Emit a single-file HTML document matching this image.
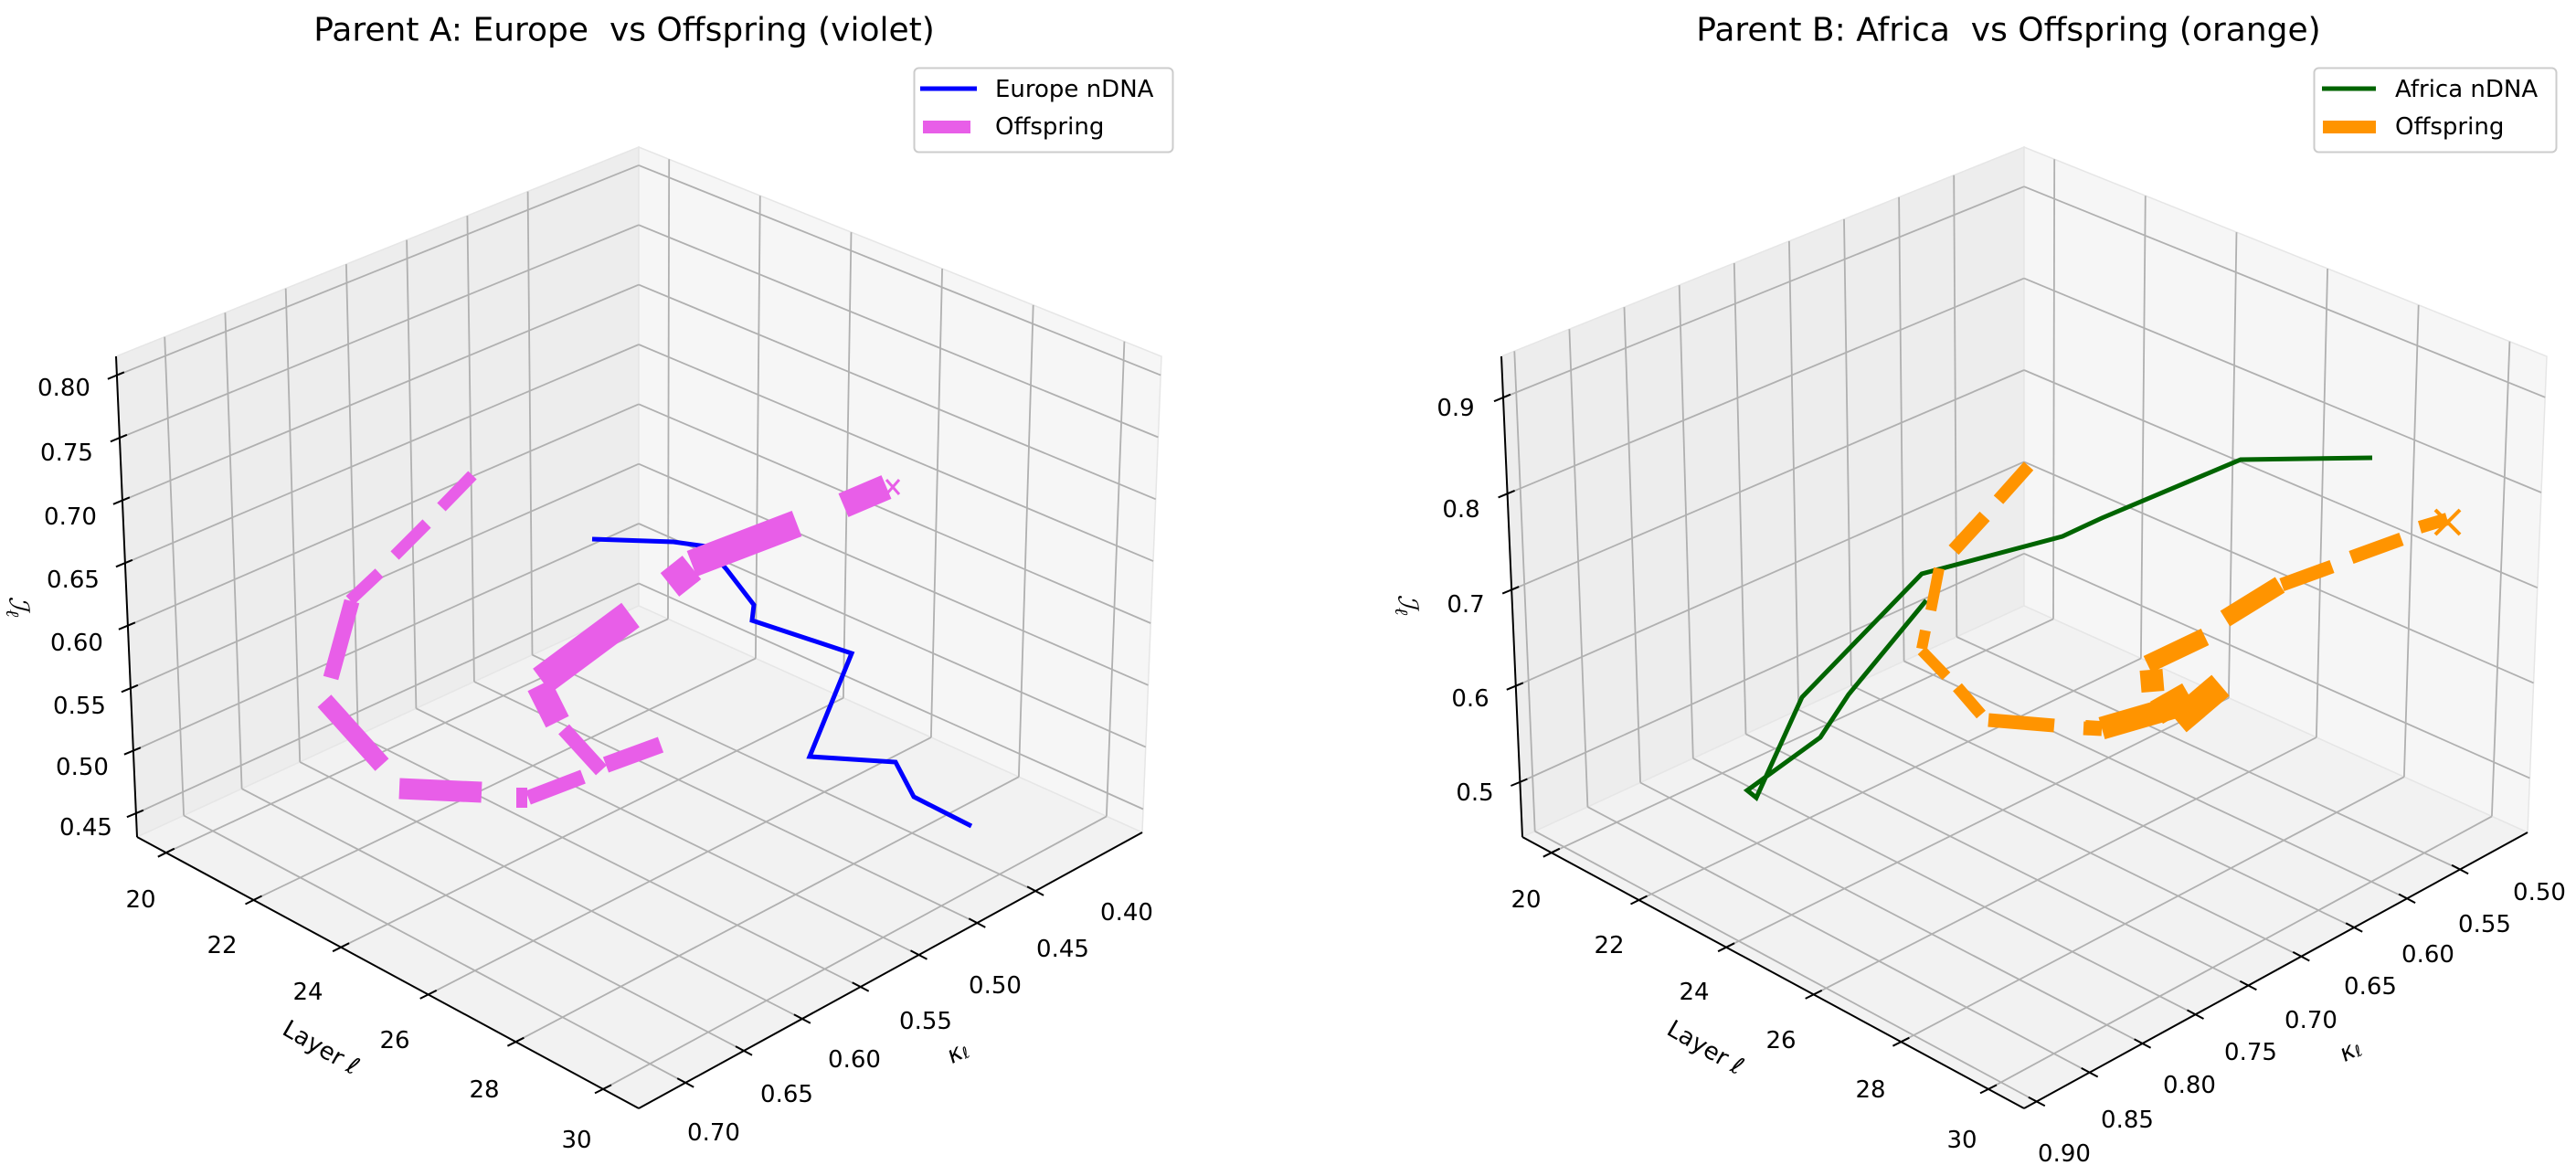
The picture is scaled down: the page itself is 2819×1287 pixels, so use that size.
<!DOCTYPE html>
<html><head><meta charset="utf-8">
<style>
html,body{margin:0;padding:0;background:#fff;}
svg{display:block;}
text{font-family:"DejaVu Sans","Liberation Sans",sans-serif;fill:#000;}
.t{font-size:26px;text-anchor:middle;dominant-baseline:central;}
.ttl{font-size:36px;text-anchor:middle;dominant-baseline:central;white-space:pre;}
.lg{font-size:26px;}
</style></head>
<body>
<svg id="s" width="2819" height="1287" viewBox="0 0 2819 1287" xmlns="http://www.w3.org/2000/svg">
<g id="bg"></g>
<g id="data">
<polyline points="648,590 737,593 773,598 795,623 825,662 823,679 932,715 886,828 980,834 1000,872 1063,904" fill="none" stroke="#0000ff" stroke-width="5" stroke-linejoin="miter"/>
<g stroke="#e85ee8" fill="none" stroke-linecap="butt">
<line x1="517" y1="520" x2="483" y2="555" stroke-width="13"/>
<line x1="467" y1="573" x2="432" y2="608" stroke-width="13"/>
<line x1="415" y1="627" x2="383" y2="657" stroke-width="13"/>
<line x1="385" y1="658" x2="362" y2="742" stroke-width="17"/>
<line x1="355" y1="767" x2="418" y2="837" stroke-width="20"/>
<line x1="437" y1="863" x2="527" y2="867" stroke-width="23"/>
<line x1="571" y1="862" x2="571" y2="884" stroke-width="12"/>
<line x1="578" y1="873" x2="638" y2="850" stroke-width="16"/>
<line x1="617" y1="798" x2="658" y2="843" stroke-width="16"/>
<line x1="663" y1="837" x2="723" y2="815" stroke-width="18"/>
<line x1="590" y1="750" x2="610" y2="790" stroke-width="28"/>
<line x1="593" y1="745" x2="690" y2="673" stroke-width="33"/>
<line x1="733" y1="640" x2="757" y2="621" stroke-width="33"/>
<line x1="757" y1="617" x2="872" y2="573" stroke-width="30"/>
<line x1="923" y1="553" x2="970" y2="533" stroke-width="28"/>
<line x1="970" y1="525" x2="984" y2="541" stroke-width="3"/>
<line x1="970" y1="541" x2="984" y2="525" stroke-width="3"/>
</g>
<polyline points="2596,501 2452,503 2300,567 2257,587 2103,628 1972,763 1922,873 1912,865 1992,807 2023,760 2108,657" fill="none" stroke="#006400" stroke-width="5"/>
<g stroke="#ff9400" fill="none" stroke-linecap="butt">
<line x1="2220" y1="510" x2="2187" y2="547" stroke-width="14"/>
<line x1="2172" y1="565" x2="2138" y2="602" stroke-width="15"/>
<line x1="2122" y1="622" x2="2113" y2="668" stroke-width="12"/>
<line x1="2107" y1="690" x2="2103" y2="710" stroke-width="12"/>
<line x1="2103" y1="712" x2="2130" y2="740" stroke-width="12"/>
<line x1="2142" y1="752" x2="2168" y2="782" stroke-width="13"/>
<line x1="2176" y1="788" x2="2248" y2="794" stroke-width="15"/>
<line x1="2280" y1="797" x2="2300" y2="798" stroke-width="15"/>
<line x1="2282" y1="796" x2="2298" y2="797" stroke-width="16"/>
<line x1="2300" y1="797" x2="2393" y2="770" stroke-width="25"/>
<line x1="2383" y1="790" x2="2430" y2="750" stroke-width="30"/>
<line x1="2360" y1="780" x2="2395" y2="760" stroke-width="28"/>
<line x1="2354" y1="733" x2="2356" y2="757" stroke-width="25"/>
<line x1="2350" y1="727" x2="2413" y2="697" stroke-width="20"/>
<line x1="2435" y1="677" x2="2495" y2="640" stroke-width="20"/>
<line x1="2497" y1="640" x2="2552" y2="620" stroke-width="15"/>
<line x1="2573" y1="610" x2="2628" y2="590" stroke-width="15"/>
<line x1="2648" y1="577" x2="2678" y2="568" stroke-width="14"/>
<line x1="2665" y1="558" x2="2692" y2="585" stroke-width="4"/>
<line x1="2665" y1="585" x2="2692" y2="558" stroke-width="4"/>
</g>
</g>

<text class="ttl" x="683" y="33">Parent A: Europe  vs Offspring (violet)</text>
<text class="ttl" x="2198" y="33">Parent B: Africa  vs Offspring (orange)</text>

<text class="t" x="70" y="425">0.80</text>
<text class="t" x="73" y="496">0.75</text>
<text class="t" x="77" y="566">0.70</text>
<text class="t" x="80" y="635">0.65</text>
<text class="t" x="84" y="704">0.60</text>
<text class="t" x="87" y="773">0.55</text>
<text class="t" x="90" y="840">0.50</text>
<text class="t" x="94" y="906">0.45</text>
<text x="20" y="664" style="font-size:30px;font-style:italic;font-family:'DejaVu Serif',serif;text-anchor:middle;dominant-baseline:central" transform="rotate(90 20 664)">ℐ<tspan font-size="20" dy="6">ℓ</tspan></text>
<text class="t" x="154" y="985">20</text>
<text class="t" x="243" y="1035">22</text>
<text class="t" x="337" y="1086">24</text>
<text class="t" x="432" y="1139">26</text>
<text class="t" x="530" y="1193">28</text>
<text class="t" x="631" y="1248">30</text>
<text class="t" x="351" y="1147" transform="rotate(30 351 1147)">Layer <tspan font-style="italic">ℓ</tspan></text>
<text class="t" x="1233" y="999">0.40</text>
<text class="t" x="1163" y="1039">0.45</text>
<text class="t" x="1089" y="1079">0.50</text>
<text class="t" x="1013" y="1118">0.55</text>
<text class="t" x="935" y="1160">0.60</text>
<text class="t" x="861" y="1198">0.65</text>
<text class="t" x="781" y="1240">0.70</text>
<text class="t" x="1048" y="1152" style="font-style:italic" transform="rotate(-28 1048 1152)">κ<tspan font-size="17" dy="5">ℓ</tspan></text>

<text class="t" x="1614" y="868">0.5</text>
<text class="t" x="1609" y="765">0.6</text>
<text class="t" x="1604" y="662">0.7</text>
<text class="t" x="1599" y="558">0.8</text>
<text class="t" x="1593" y="447">0.9</text>
<text x="1540" y="662" style="font-size:30px;font-style:italic;font-family:'DejaVu Serif',serif;text-anchor:middle;dominant-baseline:central" transform="rotate(90 1540 662)">ℐ<tspan font-size="20" dy="6">ℓ</tspan></text>
<text class="t" x="1670" y="985">20</text>
<text class="t" x="1761" y="1035">22</text>
<text class="t" x="1854" y="1086">24</text>
<text class="t" x="1949" y="1139">26</text>
<text class="t" x="2047" y="1193">28</text>
<text class="t" x="2147" y="1248">30</text>
<text class="t" x="1866" y="1147" transform="rotate(30 1866 1147)">Layer <tspan font-style="italic">ℓ</tspan></text>
<text class="t" x="2779" y="977">0.50</text>
<text class="t" x="2719" y="1012">0.55</text>
<text class="t" x="2657" y="1045">0.60</text>
<text class="t" x="2594" y="1080">0.65</text>
<text class="t" x="2529" y="1117">0.70</text>
<text class="t" x="2463" y="1152">0.75</text>
<text class="t" x="2396" y="1188">0.80</text>
<text class="t" x="2328" y="1226">0.85</text>
<text class="t" x="2259" y="1263">0.90</text>
<text class="t" x="2572" y="1150" style="font-style:italic" transform="rotate(-28 2572 1150)">κ<tspan font-size="17" dy="5">ℓ</tspan></text>

<rect x="1000.5" y="74.5" width="283" height="92" rx="5" fill="#fff" fill-opacity="0.8" stroke="#cccccc" stroke-width="2"/>
<line x1="1007" y1="97" x2="1069" y2="97" stroke="#0000ff" stroke-width="5"/>
<line x1="1010" y1="139" x2="1062" y2="139" stroke="#e85ee8" stroke-width="14"/>
<text class="lg" x="1089" y="106">Europe nDNA</text>
<text class="lg" x="1089" y="147">Offspring</text>

<rect x="2532.5" y="74.5" width="265" height="92" rx="5" fill="#fff" fill-opacity="0.8" stroke="#cccccc" stroke-width="2"/>
<line x1="2541" y1="97" x2="2600" y2="97" stroke="#006400" stroke-width="5"/>
<line x1="2542" y1="139" x2="2600" y2="139" stroke="#ff9400" stroke-width="14"/>
<text class="lg" x="2621" y="106">Africa nDNA</text>
<text class="lg" x="2621" y="147">Offspring</text>
</svg>
<script>
(function(){
var NS="http://www.w3.org/2000/svg";
var bg=document.getElementById('bg');
var L=[150,916],F=[699,1213],B=[699,663],R=[1250,911];
var Lt=[127,390],Bt=[699,161],Rt=[1271,390],Ft=[699,667];
function bil(u,v,a,b,c,d){return [(1-u)*(1-v)*a[0]+u*(1-v)*b[0]+(1-u)*v*c[0]+u*v*d[0],(1-u)*(1-v)*a[1]+u*(1-v)*b[1]+(1-u)*v*c[1]+u*v*d[1]];}
function P(dx,u,v,w){var f=bil(u,v,L,F,B,R),c=bil(u,v,Lt,Ft,Bt,Rt);return [dx+f[0]+(c[0]-f[0])*w,f[1]+(c[1]-f[1])*w];}
function el(t,a){var e=document.createElementNS(NS,t);for(var k in a)e.setAttribute(k,a[k]);bg.appendChild(e);return e;}
function poly(pts,fill){el('polygon',{points:pts.map(function(p){return p[0].toFixed(1)+','+p[1].toFixed(1)}).join(' '),fill:fill,stroke:'#e6e6e6','stroke-width':1.5});}
function ln(a,b,col,w){el('line',{x1:a[0].toFixed(1),y1:a[1].toFixed(1),x2:b[0].toFixed(1),y2:b[1].toFixed(1),stroke:col,'stroke-width':w});}
function panel(dx,kv,zw){
  poly([P(dx,0,0,0),P(dx,0,1,0),P(dx,0,1,1),P(dx,0,0,1)],'#ededed');
  poly([P(dx,0,1,0),P(dx,1,1,0),P(dx,1,1,1),P(dx,0,1,1)],'#f6f6f6');
  poly([P(dx,0,0,0),P(dx,1,0,0),P(dx,1,1,0),P(dx,0,1,0)],'#f2f2f2');
  var g='#b0b0b0',gw=1.8;
  var us=[];for(var l=20;l<=30;l+=2)us.push(0.058+(l-20)*0.0871);
  us.forEach(function(u){ln(P(dx,u,0,0),P(dx,u,1,0),g,gw);ln(P(dx,u,1,0),P(dx,u,1,1),g,gw);});
  kv.forEach(function(v){ln(P(dx,0,v,0),P(dx,1,v,0),g,gw);ln(P(dx,0,v,0),P(dx,0,v,1),g,gw);});
  zw.forEach(function(w){ln(P(dx,0,0,w),P(dx,0,1,w),g,gw);ln(P(dx,0,1,w),P(dx,1,1,w),g,gw);});
  ln(P(dx,0,0,0),P(dx,0,0,1),'#000',2);
  ln(P(dx,0,0,0),P(dx,1,0,0),'#000',2);
  ln(P(dx,1,0,0),P(dx,1,1,0),'#000',2);
  us.forEach(function(u){var p=P(dx,u,0,0);ln([p[0]-9,p[1]+4.5],[p[0]+9,p[1]-4.5],'#000',2);});
  kv.forEach(function(v){var p=P(dx,1,v,0);ln([p[0]-9,p[1]-4.8],[p[0]+9,p[1]+4.8],'#000',2);});
  zw.forEach(function(w){var p=P(dx,0,0,w);ln([p[0]-10,p[1]+4],[p[0]+8,p[1]-3.5],'#000',2);});
}
var kvL=[],kvR=[],zwL=[],zwR=[],k;
for(k=0;k<7;k++)kvL.push(0.093+k*0.1158);
for(k=0;k<9;k++)kvR.push(0.025+k*0.1051);
for(k=0;k<8;k++)zwL.push(0.049+k*0.1302);
for(k=0;k<5;k++)zwR.push(0.114+k*0.2);
panel(0,kvL,zwL);
panel(1516,kvR,zwR);
})();
</script>
</body></html>
